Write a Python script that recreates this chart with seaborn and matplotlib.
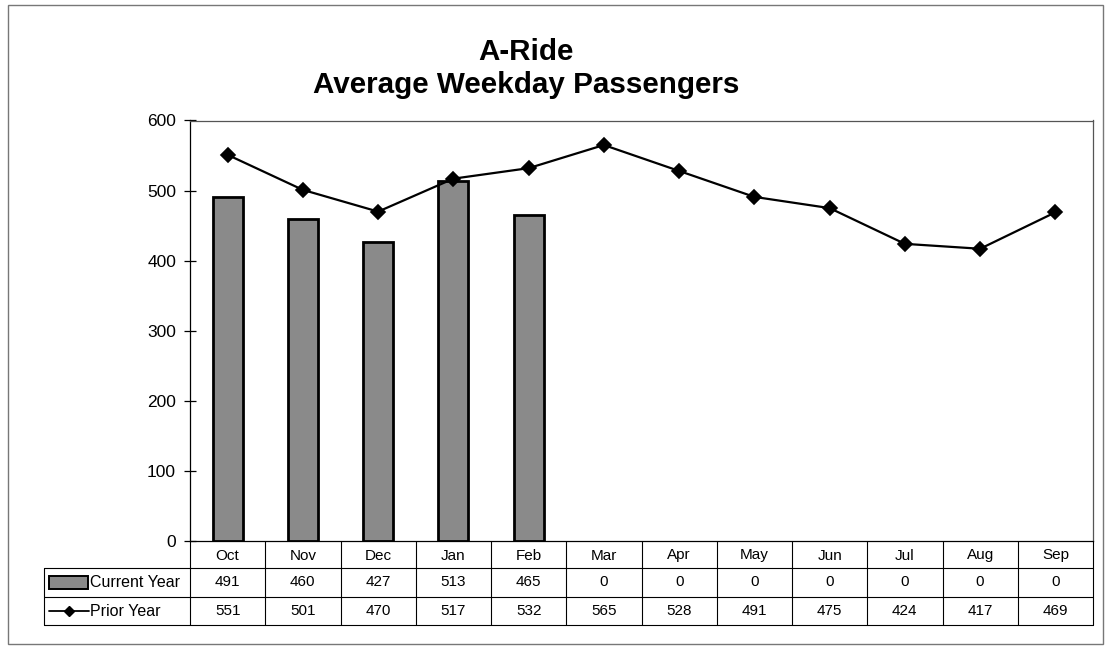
import matplotlib
matplotlib.use("Agg")
import matplotlib.pyplot as plt
import matplotlib.transforms as mtransforms
from matplotlib.patches import Rectangle
from matplotlib.lines import Line2D
import seaborn as sns
import pandas as pd

months = ["Oct", "Nov", "Dec", "Jan", "Feb", "Mar", "Apr", "May", "Jun", "Jul", "Aug", "Sep"]
current_year = [491, 460, 427, 513, 465, 0, 0, 0, 0, 0, 0, 0]
prior_year = [551, 501, 470, 517, 532, 565, 528, 491, 475, 424, 417, 469]
series_names = ["Current Year", "Prior Year"]
yticks = [0, 100, 200, 300, 400, 500, 600]
title_lines = ["A-Ride", "Average Weekday Passengers"]

sns.set_theme(style="white")
plt.rcParams["font.family"] = ["Liberation Sans", "DejaVu Sans"]
plt.rcParams["text.color"] = "black"
plt.rcParams["ytick.labelcolor"] = "black"
plt.rcParams["xtick.labelcolor"] = "black"

W, H = 1106, 648
fig = plt.figure(figsize=(W / 100, H / 100), dpi=100)
fig.patch.set_facecolor("white")

def fx(px):
    return px / W

def fy(py):
    return 1 - py / H

ax_left, ax_right, ax_top, ax_bot = 190, 1093, 120.5, 541
ax = fig.add_axes([fx(ax_left), fy(ax_bot), fx(ax_right - ax_left), (ax_bot - ax_top) / H])

df = pd.DataFrame({"month": months, "current": current_year, "prior": prior_year})

sns.barplot(data=df, x="month", y="current", order=months, color="#8a8a8a",
            saturation=1, edgecolor="black", linewidth=2.0, width=0.4, ax=ax)
for p in ax.patches:
    if p.get_height() == 0:
        p.set_linewidth(0)

sns.pointplot(data=df, x="month", y="prior", order=months, color="black",
              markers="D", markersize=7, linewidth=1.6, ax=ax)

ax.set_ylim(0, 600)
ax.set_xlim(-0.5, len(months) - 0.5)
ax.set_yticks(yticks)
ax.set_yticklabels([str(v) for v in yticks], fontsize=12.5, color="black")
ax.set_xticks([])
ax.set_xlabel("")
ax.set_ylabel("")
ax.tick_params(axis="y", direction="inout", length=8, width=0.9, color="black", pad=6, left=True)
for s in ax.spines.values():
    s.set_visible(True)
    s.set_color("black")
    s.set_linewidth(0.9)
ax.spines["top"].set_color("#555555")
ax.spines["right"].set_color("#555555")

# ---- data table below the plot ----
trans = mtransforms.blended_transform_factory(ax.transData, fig.transFigure)
row_y = [541, 568, 597, 625]
label_left = 44
lc = "black"
lw = 0.8

for yy in row_y[1:]:
    fig.add_artist(Line2D([fx(label_left), fx(ax_right)], [fy(yy), fy(yy)], color=lc, lw=lw))
for i in range(len(months) + 1):
    xb = i - 0.5
    fig.add_artist(Line2D([xb, xb], [fy(row_y[0]), fy(row_y[-1])], transform=trans, color=lc, lw=lw))
fig.add_artist(Line2D([fx(label_left), fx(label_left)], [fy(row_y[1]), fy(row_y[-1])], color=lc, lw=lw))

tfs = 11
for i, m in enumerate(months):
    ax.text(i, fy((row_y[0] + row_y[1]) / 2 + 1), m, transform=trans,
            fontsize=tfs, ha="center", va="center", color="black")
    ax.text(i, fy((row_y[1] + row_y[2]) / 2), str(current_year[i]), transform=trans,
            fontsize=tfs, ha="center", va="center", color="black")
    ax.text(i, fy((row_y[2] + row_y[3]) / 2), str(prior_year[i]), transform=trans,
            fontsize=tfs, ha="center", va="center", color="black")

# legend keys in row labels
fig.add_artist(Rectangle((fx(49), fy(589)), fx(88) - fx(49), fy(576) - fy(589),
                         facecolor="#8a8a8a", edgecolor="black", lw=1.4))
fig.add_artist(Line2D([fx(49), fx(89)], [fy(611), fy(611)], color="black", lw=1.3))
fig.add_artist(Line2D([fx(69)], [fy(611)], color="black", marker="D", markersize=5, lw=0))
fig.text(fx(90), fy((row_y[1] + row_y[2]) / 2), series_names[0], fontsize=tfs + 0.5,
         ha="left", va="center", color="black")
fig.text(fx(90), fy((row_y[2] + row_y[3]) / 2), series_names[1], fontsize=tfs + 0.5,
         ha="left", va="center", color="black")

# title
fig.text(fx(526), fy(38), "\n".join(title_lines), fontsize=21.3, fontweight="bold",
         ha="center", va="top", linespacing=1.22, color="black")

# outer border
fig.add_artist(Rectangle((fx(8), fy(644)), fx(1103) - fx(8), fy(5) - fy(644),
                         facecolor="none", edgecolor="#777777", lw=1.0))

fig.savefig("out.png", dpi=100)
